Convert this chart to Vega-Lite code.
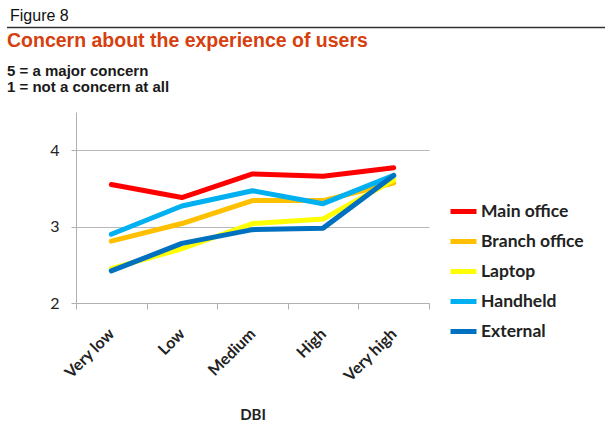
{
  "$schema": "https://vega.github.io/schema/vega-lite/v6.json",
  "background": "white",
  "padding": {"left": 6, "top": 7, "right": 2, "bottom": 2},
  "spacing": 1,
  "config": {"view": {"stroke": null}},
  "datasets": {
    "separator": [{"a": 0, "b": 1}],
    "survey": [
      {"dbi": "Very low", "series": "Main office", "value": 3.55},
      {"dbi": "Low", "series": "Main office", "value": 3.38},
      {"dbi": "Medium", "series": "Main office", "value": 3.69},
      {"dbi": "High", "series": "Main office", "value": 3.66},
      {"dbi": "Very high", "series": "Main office", "value": 3.77},
      {"dbi": "Very low", "series": "Branch office", "value": 2.81},
      {"dbi": "Low", "series": "Branch office", "value": 3.04},
      {"dbi": "Medium", "series": "Branch office", "value": 3.34},
      {"dbi": "High", "series": "Branch office", "value": 3.34},
      {"dbi": "Very high", "series": "Branch office", "value": 3.57},
      {"dbi": "Very low", "series": "Laptop", "value": 2.45},
      {"dbi": "Low", "series": "Laptop", "value": 2.71},
      {"dbi": "Medium", "series": "Laptop", "value": 3.04},
      {"dbi": "High", "series": "Laptop", "value": 3.10},
      {"dbi": "Very high", "series": "Laptop", "value": 3.61},
      {"dbi": "Very low", "series": "Handheld", "value": 2.90},
      {"dbi": "Low", "series": "Handheld", "value": 3.27},
      {"dbi": "Medium", "series": "Handheld", "value": 3.47},
      {"dbi": "High", "series": "Handheld", "value": 3.30},
      {"dbi": "Very high", "series": "Handheld", "value": 3.67},
      {"dbi": "Very low", "series": "External", "value": 2.42},
      {"dbi": "Low", "series": "External", "value": 2.78},
      {"dbi": "Medium", "series": "External", "value": 2.96},
      {"dbi": "High", "series": "External", "value": 2.98},
      {"dbi": "Very high", "series": "External", "value": 3.67}
    ]
  },
  "vconcat": [
    {
      "title": {
        "text": "Figure 8",
        "anchor": "start",
        "frame": "group",
        "font": "Liberation Sans",
        "fontSize": 16,
        "fontWeight": "normal",
        "color": "#111111",
        "offset": 3,
        "dx": -66
      },
      "width": 353,
      "height": 1,
      "data": {"name": "separator"},
      "mark": {"type": "rule", "color": "#333333", "strokeWidth": 1.6},
      "encoding": {
        "x": {"field": "a", "type": "quantitative", "scale": {"domain": [0, 1], "range": [-69, 529], "nice": false, "zero": false}, "axis": null},
        "x2": {"field": "b"}
      }
    },
    {
      "title": {
        "text": "Concern about the experience of users",
        "subtitle": ["\u00a0\u00a05 = a major concern", "\u00a0\u00a01 = not a concern at all"],
        "anchor": "start",
        "frame": "bounds",
        "font": "Liberation Sans",
        "fontSize": 19.5,
        "fontWeight": "bold",
        "color": "#d6400e",
        "subtitleFont": "Liberation Sans",
        "subtitleFontSize": 15,
        "subtitleFontWeight": "bold",
        "subtitleColor": "#1a1a1a",
        "subtitleLineHeight": 16,
        "subtitlePadding": 13,
        "offset": 16
      },
      "width": 353,
      "height": 191,
      "data": {"name": "survey"},
      "mark": {"type": "line", "strokeWidth": 5, "strokeCap": "round", "strokeJoin": "round"},
      "encoding": {
        "x": {
          "field": "dbi",
          "type": "ordinal",
          "sort": ["Very low", "Low", "Medium", "High", "Very high"],
          "bandPosition": 0.5,
          "scale": {"type": "band", "paddingInner": 0, "paddingOuter": 0},
          "axis": {
            "title": "DBI",
            "titleFont": "Lato",
            "titleFontSize": 15,
            "titleFontWeight": "bold",
            "titleColor": "#222222",
            "titlePadding": 23,
            "labelAngle": -45,
            "labelAlign": "right",
            "labelBaseline": "middle",
            "labelFont": "Lato",
            "labelFontSize": 16,
            "labelFontWeight": "bold",
            "labelColor": "#222222",
            "labelPadding": 22,
            "tickBand": "extent",
            "tickSize": 6,
            "tickColor": "#b0b0b0",
            "domainColor": "#b0b0b0",
            "grid": false
          }
        },
        "y": {
          "field": "value",
          "type": "quantitative",
          "scale": {"domain": [2, 4.5], "nice": false, "zero": false},
          "axis": {
            "title": null,
            "values": [2, 3, 4],
            "grid": true,
            "gridColor": "#b8b8b8",
            "gridWidth": 1,
            "domainColor": "#b0b0b0",
            "tickColor": "#b0b0b0",
            "tickSize": 5,
            "labelFont": "Lato",
            "labelFontSize": 16,
            "labelColor": "#222222",
            "labelPadding": 12,
            "minExtent": 69
          }
        },
        "color": {
          "field": "series",
          "type": "nominal",
          "sort": ["Main office", "Branch office", "Laptop", "Handheld", "External"],
          "scale": {
            "domain": ["Main office", "Branch office", "Laptop", "Handheld", "External"],
            "range": ["#ff0000", "#ffc000", "#ffff00", "#00b0f0", "#0070c0"]
          },
          "legend": {
            "title": null,
            "orient": "none",
            "legendX": 372,
            "legendY": 169,
            "padding": 0,
            "symbolType": "stroke",
            "symbolSize": 676,
            "symbolStrokeWidth": 5,
            "symbolOffset": 0,
            "labelOffset": 2,
            "labelFont": "Lato",
            "labelFontSize": 17.5,
            "labelFontWeight": "bold",
            "labelColor": "#222222",
            "rowPadding": 4
          }
        }
      }
    }
  ]
}
